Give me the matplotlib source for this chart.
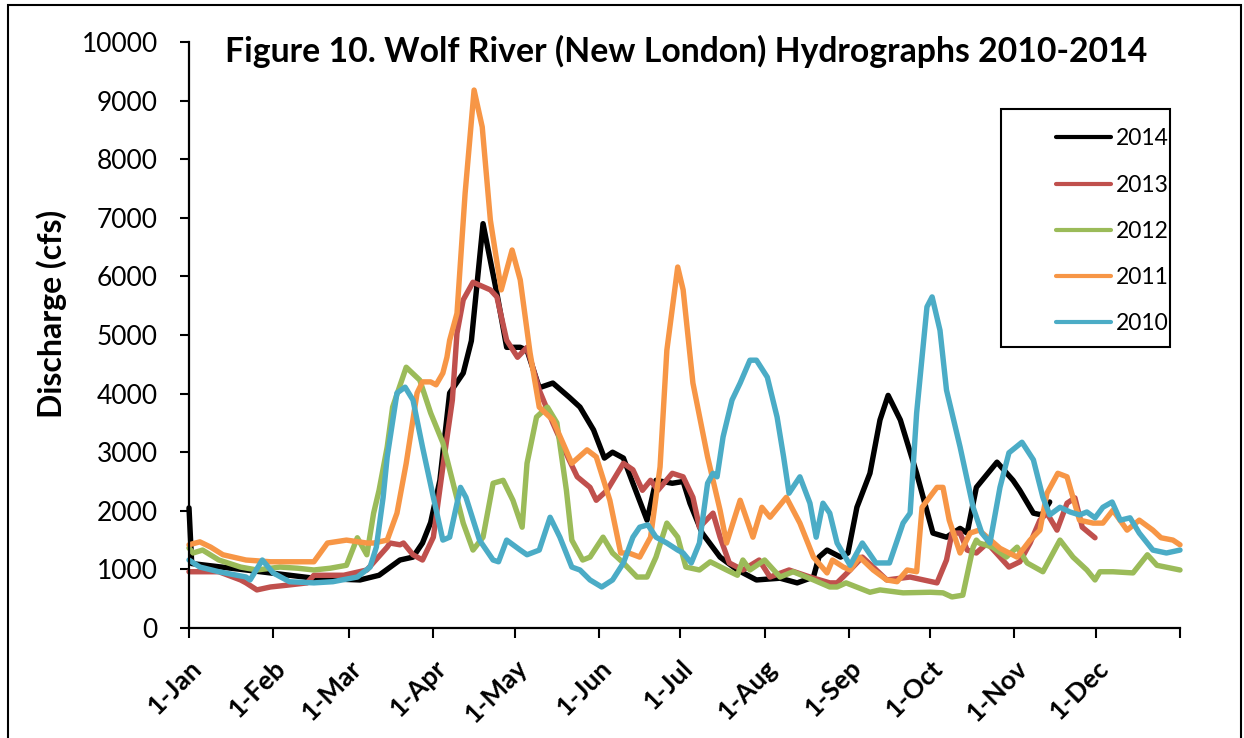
import matplotlib
matplotlib.use("Agg")
import matplotlib.pyplot as plt
from matplotlib.lines import Line2D
from matplotlib.patches import Rectangle

W, H = 1244, 738

# ---------------- data (day of year, discharge cfs) ----------------
days_2014 = [0, 1, 21, 46, 63, 70, 77.7, 82.5, 86, 89, 92.4, 96, 101, 104, 108.3, 110, 113.4, 117, 122, 124.5,
             129, 134, 140, 144, 149, 153, 156, 160, 163.5, 168.7, 172, 178, 182, 184.5, 189, 195.6, 202, 209,
             217.7, 224, 230, 232, 235, 240, 242.7, 246, 250.8, 254.5, 257.5, 262, 268, 274, 279, 284, 286.6,
             290, 297.6, 303.5, 306, 311, 314, 317]
q_2014 = [2050, 1100, 990, 850, 820, 900, 1160, 1210, 1450, 1800, 2520, 4010, 4350, 4900, 6900, 6500, 5710, 4790,
          4790, 4740, 4100, 4180, 3940, 3770, 3380, 2900, 3000, 2900, 2470, 1840, 2520, 2470, 2500, 2130, 1620,
          1210, 990, 820, 850, 770, 870, 1210, 1330, 1210, 1280, 2060, 2640, 3550, 3970, 3550, 2640, 1620, 1550,
          1700, 1620, 2400, 2830, 2520, 2350, 1960, 1930, 2150]

days_2013 = [0, 11, 19, 21, 25, 30, 36, 43.5, 46, 52, 57, 65.5, 73, 74, 77.7, 79, 82.5, 86, 90, 93.5, 97, 98.7,
             101, 104.6, 111, 113.4, 117, 121, 124.5, 129, 134, 140, 143, 147.7, 150, 154, 160, 163.5, 167, 170,
             172.7, 178, 182, 185.6, 188, 193, 195.6, 199, 204, 210, 214, 221, 228.7, 236, 238.7, 243.5, 248,
             252, 257, 265.6, 275.5, 279, 281, 284, 286.6, 290, 294, 298.7, 302, 306, 309.8, 313.4, 316, 319.7,
             323.4, 326.3, 329, 333.7]
q_2013 = [960, 960, 820, 770, 650, 700, 730, 770, 900, 900, 900, 990, 1380, 1450, 1420, 1450, 1250, 1160, 1550,
          2750, 3890, 5030, 5600, 5900, 5770, 5650, 4910, 4620, 4790, 4060, 3500, 2870, 2580, 2400, 2180, 2350,
          2810, 2700, 2350, 2520, 2350, 2640, 2580, 2230, 1720, 1960, 1550, 1110, 990, 1160, 870, 990, 870, 770,
          770, 990, 1210, 1040, 820, 870, 770, 1160, 1620, 1620, 1330, 1280, 1450, 1210, 1040, 1130, 1450, 1840,
          1960, 1670, 2130, 2220, 1720, 1540]

days_2012 = [0, 1.5, 5, 11, 19, 25, 33.5, 40, 46, 52, 58, 62, 65.5, 68, 70, 73, 75, 80, 85, 89, 93.5, 97, 101,
             104.6, 108.3, 112, 115.7, 119.3, 122.7, 124.5, 128, 132, 135.5, 139, 141, 145, 147.7, 152.5, 156,
             160, 165, 168.7, 172, 176, 180, 183, 188, 192, 198, 202, 204, 206.6, 212, 217.7, 222.5, 230, 236,
             238.7, 242, 250.8, 254.5, 263, 273, 277.7, 281, 285, 288.8, 290, 291, 296, 301, 305, 308.7, 314.5,
             320.8, 325.6, 330.7, 333.7, 335.5, 340.3, 347.7, 353, 356.5, 365]
q_2012 = [1365, 1280, 1330, 1160, 1040, 990, 1040, 1020, 990, 1020, 1070, 1540, 1250, 1960, 2350, 3090, 3770,
          4450, 4230, 3670, 3160, 2520, 1790, 1330, 1550, 2470, 2520, 2180, 1720, 2810, 3600, 3770, 3500, 2350,
          1500, 1160, 1210, 1550, 1280, 1110, 870, 870, 1210, 1790, 1550, 1040, 990, 1130, 990, 900, 1160, 990,
          1160, 870, 960, 820, 700, 700, 770, 610, 650, 600, 610, 600, 530, 560, 1380, 1500, 1450, 1380, 1210,
          1380, 1110, 960, 1500, 1210, 990, 820, 960, 960, 940, 1250, 1070, 990]

days_2011 = [0, 4, 8, 12.5, 21, 30, 40, 46, 51, 58, 65.5, 68, 73, 76.6, 80, 84, 86, 89, 91, 93.5, 95, 96, 98.7,
             101.7, 105, 108, 111, 115, 119, 122, 125.6, 129, 134, 141, 146.6, 150, 155, 159, 162, 166, 170,
             173.5, 176, 180, 182, 185.6, 191, 195.6, 198, 203, 207.7, 211, 214, 220, 225, 230, 235, 237, 241,
             243.5, 247, 252, 257, 260.8, 264.5, 268, 270, 275.5, 277.7, 280, 284, 287.7, 291, 298.7, 305,
             309.8, 313.4, 316, 320, 323.4, 328, 333, 336.6, 340.3, 345.5, 350, 355, 358, 362.4, 365]
q_2011 = [1420, 1470, 1380, 1250, 1160, 1130, 1130, 1130, 1450, 1500, 1450, 1450, 1500, 1960, 2810, 4010, 4200,
          4200, 4150, 4350, 4620, 4910, 5370, 7420, 9180, 8550, 6960, 5770, 6450, 5940, 4700, 3770, 3550, 2810,
          3040, 2920, 2180, 1280, 1280, 1210, 1550, 2750, 4740, 6160, 5770, 4180, 2920, 2010, 1450, 2180, 1550,
          2060, 1890, 2230, 1790, 1210, 940, 1160, 1040, 990, 1210, 990, 820, 790, 990, 960, 2060, 2400, 2400,
          1840, 1280, 1620, 1670, 1360, 1210, 1500, 1670, 2300, 2640, 2580, 1840, 1790, 1790, 2010, 1670, 1840,
          1670, 1540, 1500, 1420]

days_2010 = [0, 4, 11, 21, 22.5, 27, 31, 37, 46, 53, 62, 66.7, 69, 71.5, 73, 76.6, 79.6, 82.5, 86, 90, 93.5, 96,
             100, 102, 107, 112, 114, 117, 122, 124.5, 129, 133, 136.6, 141, 144, 147.7, 152, 156, 160, 163.5,
             166, 169, 172, 176, 180, 182, 185, 188, 191, 193, 194.5, 196.7, 200, 203, 206.6, 209, 213, 216.6,
             219, 221, 225, 228.7, 231, 233.5, 236, 238.7, 243.5, 248, 253, 258, 263, 265.6, 268, 271.8, 273.7,
             276.6, 279, 284, 288.8, 292, 295, 298.7, 302, 306.8, 311, 314.5, 317, 320.8, 324.5, 328, 330.7,
             333.7, 336.6, 340, 343, 346.6, 350, 355, 360, 365]
q_2010 = [1160, 1040, 960, 870, 820, 1160, 940, 790, 770, 790, 870, 1040, 1380, 2230, 2920, 4010, 4110, 3890,
          3090, 2230, 1500, 1550, 2400, 2230, 1500, 1160, 1130, 1500, 1330, 1250, 1330, 1890, 1550, 1040, 990,
          820, 700, 820, 1110, 1550, 1720, 1760, 1550, 1450, 1330, 1280, 1110, 1450, 2470, 2640, 2580, 3260,
          3890, 4180, 4570, 4570, 4280, 3600, 2920, 2300, 2580, 2130, 1550, 2130, 1960, 1450, 1070, 1450, 1110,
          1110, 1790, 1960, 3670, 5480, 5650, 5080, 4060, 3090, 2060, 1620, 1450, 2400, 2990, 3170, 2870, 2230,
          1930, 2060, 1980, 1930, 1980, 1880, 2060, 2150, 1840, 1880, 1620, 1330, 1280, 1330]

series_labels = ["2014", "2013", "2012", "2011", "2010"]
series_days = [days_2014, days_2013, days_2012, days_2011, days_2010]
series_vals = [q_2014, q_2013, q_2012, q_2011, q_2010]
series_colors = ["#000000", "#C0504D", "#9BBB59", "#F79646", "#4BACC6"]

month_ticks = [0, 31, 59, 90, 120, 151, 181, 212, 243, 273, 304, 334, 365]
month_labels = ["1-Jan", "1-Feb", "1-Mar", "1-Apr", "1-May", "1-Jun", "1-Jul",
                "1-Aug", "1-Sep", "1-Oct", "1-Nov", "1-Dec", ""]
y_ticks = [0, 1000, 2000, 3000, 4000, 5000, 6000, 7000, 8000, 9000, 10000]

title = "Figure 10. Wolf River (New London) Hydrographs 2010-2014"
ylabel = "Discharge (cfs)"

# ---------------- figure ----------------
plt.rcParams['font.family'] = ['Lato', 'DejaVu Sans']
fig = plt.figure(figsize=(W / 100, H / 100), dpi=100)

def fx(px):
    return px / W

def fy(py):
    return 1 - py / H

ax = fig.add_axes([fx(189), fy(628), fx(1180) - fx(189), fy(42) - fy(628)])
ax.set_xlim(0, 365)
ax.set_ylim(0, 10000)

handles = []
for i, (lab, d, v, c) in enumerate(zip(series_labels, series_days, series_vals, series_colors)):
    ax.plot(d, v, color=c, lw=3.9, solid_joinstyle='round', solid_capstyle='round',
            zorder=2 + i, clip_on=False)
    handles.append(Line2D([0], [0], color=c, lw=3.0, solid_capstyle='round'))

for s in ['top', 'right']:
    ax.spines[s].set_visible(False)
for s in ['left', 'bottom']:
    ax.spines[s].set_linewidth(1.6)
    ax.spines[s].set_zorder(10)

ax.set_yticks(y_ticks)
ax.set_yticklabels([str(t) for t in y_ticks], fontsize=19)
ax.tick_params(axis='y', direction='out', length=6.5, width=1.5, pad=16)

ax.set_xticks(month_ticks)
ax.set_xticklabels(month_labels, fontsize=19, fontweight='bold', rotation=45,
                   ha='right', va='top', rotation_mode='anchor')
ax.tick_params(axis='x', direction='out', length=7, width=1.5, pad=13)

fig.text(fx(52), fy(314), ylabel, rotation=90, fontsize=23, fontweight='bold',
         ha='center', va='center')
fig.text(fx(686), fy(62), title, fontsize=24.3, fontweight='bold', ha='center', va='baseline')

# legend
fig.legend(handles, series_labels, loc='upper left', frameon=False,
           bbox_to_anchor=(fx(1038), fy(110)), fontsize=16.5, handlelength=2.4,
           handletextpad=0.2, labelspacing=1.1, borderpad=0.3)
fig.patches.append(Rectangle((fx(1001), fy(347)), fx(1170) - fx(1001), fy(109) - fy(347),
                             transform=fig.transFigure, fill=False, ec='black', lw=1.5))

# outer border
fig.patches.append(Rectangle((fx(8), fy(745)), fx(1241) - fx(8), fy(5) - fy(745),
                             transform=fig.transFigure, fill=False, ec='black', lw=1.5,
                             clip_on=True))

fig.savefig("out.png", dpi=100)
